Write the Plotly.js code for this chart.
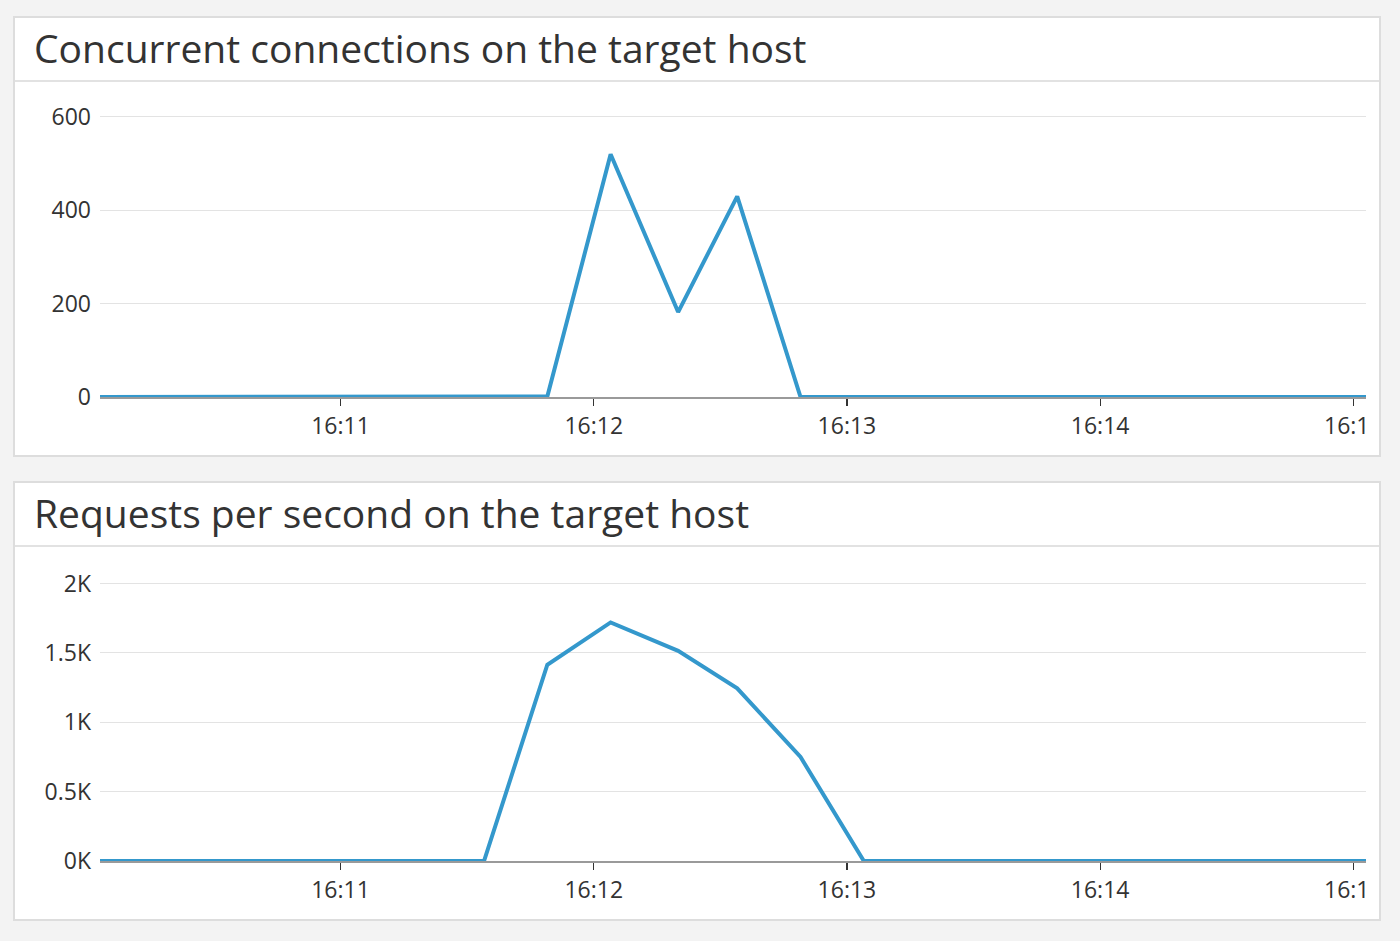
<!DOCTYPE html>
<html><head><meta charset="utf-8">
<script src="https://cdn.plot.ly/plotly-3.0.1.min.js"></script>
<style>
html,body{margin:0;padding:0;}
body{background:#f3f3f3;width:1400px;height:941px;overflow:hidden;font-family:"Open Sans",sans-serif;position:relative;}
.panel{position:absolute;left:13px;width:1368px;box-sizing:border-box;background:#fff;border:2px solid #dddddd;}
.title{height:62px;border-bottom:2px solid #e2e2e2;padding-left:19px;font-size:39px;color:#333;line-height:60px;white-space:nowrap;overflow:hidden;}
.plot{position:relative;width:1353px;overflow:hidden;}
</style></head>
<body>
<div class="panel" id="p1" style="top:16px;height:441px;">
  <div class="title">Concurrent connections on the target host</div>
  <div class="plot" id="chart1" style="height:373px;"></div>
</div>
<div class="panel" id="p2" style="top:481px;height:440px;">
  <div class="title">Requests per second on the target host</div>
  <div class="plot" id="chart2" style="height:372px;"></div>
</div>
<script>
// Sample times (~15 s interval)
const times = [
  "2024-01-01 16:09:49","2024-01-01 16:10:04","2024-01-01 16:10:19","2024-01-01 16:10:34",
  "2024-01-01 16:10:49","2024-01-01 16:11:04","2024-01-01 16:11:19","2024-01-01 16:11:34",
  "2024-01-01 16:11:49","2024-01-01 16:12:04","2024-01-01 16:12:20","2024-01-01 16:12:34",
  "2024-01-01 16:12:49","2024-01-01 16:13:04","2024-01-01 16:13:19","2024-01-01 16:13:34",
  "2024-01-01 16:13:49","2024-01-01 16:14:04","2024-01-01 16:14:19","2024-01-01 16:14:34",
  "2024-01-01 16:14:49","2024-01-01 16:15:04","2024-01-01 16:15:19"
];
// Concurrent connections
const connections = [0,0,0,0,0,0,0,0,1,520,182,430,0,0,0,0,0,0,0,0,0,0,0];
// Requests per second
const requests = [0,0,0,0,0,0,0,0,1415,1720,1515,1245,750,0,0,0,0,0,0,0,0,0,0];

const xRange = ["2024-01-01 16:10:03","2024-01-01 16:15:03"];
const connTicks = [0,200,400,600];
const connTickText = ["0","200","400","600"];
const reqTicks = [0,500,1000,1500,2000];
const reqTickText = ["0K","0.5K","1K","1.5K","2K"];

const lineColor = "#3498cc";
const font = {family:"Open Sans, sans-serif", size:23, color:"#333"};

function makeLayout(yRange, tv, tt, margin, pos){
  return {
    width:1353, height: margin.h,
    margin:{l:85, r:2, t:margin.t, b:margin.b, pad:0},
    paper_bgcolor:"#fff", plot_bgcolor:"#fff",
    showlegend:false,
    font: font,
    xaxis:{
      type:"date", range:xRange, tickformat:"%H:%M", dtick:60000,
      tick0:"2024-01-01 16:10:00",
      showgrid:false, zeroline:false,
      showline:true, linecolor:"#9a9a9a", linewidth:1.5,
      anchor:"free", position:pos,
      ticks:"outside", ticklen:7, tickwidth:1.2, tickcolor:"#333",
      ticklabelstandoff:1, ticklabeloverflow:"allow",
      tickfont:font, fixedrange:true
    },
    yaxis:{
      range:yRange, tickvals:tv, ticktext:tt,
      showgrid:true, gridcolor:"#e3e3e3", gridwidth:1,
      zeroline:false, showline:false, ticks:"",
      ticklabelstandoff:8, tickfont:font, fixedrange:true
    }
  };
}

Plotly.newPlot("chart1", [{
  type:"scatter", mode:"lines", x:times, y:connections,
  line:{color:lineColor, width:4, shape:"linear"}, hoverinfo:"skip"
}], makeLayout([-12.86, 614.9], connTicks, connTickText, {t:28, b:52, h:373}, 6/293),
{staticPlot:true, displayModeBar:false});

Plotly.newPlot("chart2", [{
  type:"scatter", mode:"lines", x:times, y:requests,
  line:{color:lineColor, width:4, shape:"linear"}, hoverinfo:"skip"
}], makeLayout([-43.26, 2040.4], reqTicks, reqTickText, {t:31, b:52, h:372}, 6/289),
{staticPlot:true, displayModeBar:false});
</script>
</body></html>
